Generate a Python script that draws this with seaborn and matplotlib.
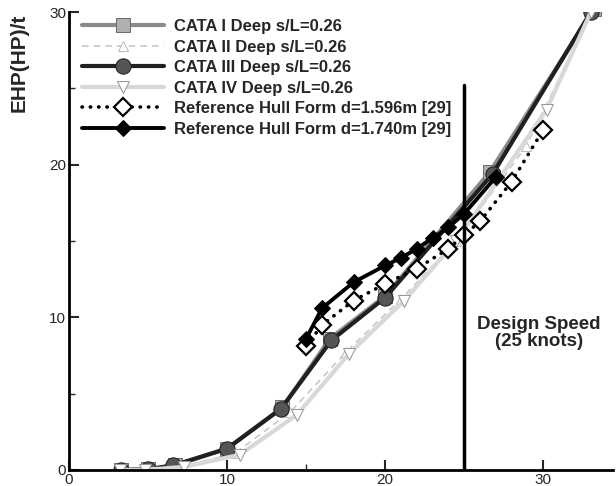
import matplotlib
matplotlib.use("Agg")
import matplotlib.pyplot as plt
import seaborn as sns
import pandas as pd

sns.set_theme(style="white")
plt.rcParams['font.family'] = ['Liberation Sans', 'DejaVu Sans']

# ---- data ----
cata1_x = [3.3, 5.0, 6.7, 10.0, 13.5, 16.5, 20.0, 26.6, 33.2]
cata1_y = [0.0, 0.05, 0.3, 1.4, 4.1, 8.6, 11.4, 19.5, 30.2]

cata2_x = [3.3, 5.0, 7.0, 10.5, 14.0, 17.5, 21.0, 24.5, 28.9, 33.3]
cata2_y = [0.0, 0.02, 0.2, 1.1, 3.8, 7.7, 11.2, 15.0, 21.2, 30.5]

cata3_x = [3.3, 5.0, 6.6, 10.0, 13.4, 16.6, 20.0, 26.8, 33.0]
cata3_y = [0.0, 0.05, 0.3, 1.4, 4.0, 8.5, 11.3, 19.4, 30.0]

cata4_x = [3.2, 4.8, 7.3, 10.8, 14.4, 17.7, 21.2, 24.5, 30.2, 33.0]
cata4_y = [0.0, 0.02, 0.2, 1.0, 3.6, 7.6, 11.1, 15.0, 23.6, 30.0]

ref1596_x = [15.0, 16.0, 18.0, 20.0, 22.0, 24.0, 25.0, 26.0, 28.0, 30.0]
ref1596_y = [8.1, 9.5, 11.1, 12.2, 13.2, 14.5, 15.4, 16.3, 18.9, 22.3]

ref1740_x = [15.0, 16.0, 18.0, 20.0, 21.0, 22.0, 23.0, 24.0, 25.0, 27.0]
ref1740_y = [8.6, 10.6, 12.3, 13.4, 13.9, 14.5, 15.2, 15.9, 16.8, 19.2]

labels = ["CATA I Deep s/L=0.26", "CATA II Deep s/L=0.26", "CATA III Deep s/L=0.26",
          "CATA IV Deep s/L=0.26", "Reference Hull Form d=1.596m [29]",
          "Reference Hull Form d=1.740m [29]"]

design_speed = 25
design_top = 25.2
x_ticks = [0, 10, 20, 30]
y_ticks = [0, 10, 20, 30]

fig = plt.figure(figsize=(6.16, 4.86), dpi=100)
ax = fig.add_axes([0.112, 0.033, 0.883, 0.942])

def df(x, y):
    return pd.DataFrame({"x": x, "y": y})

sns.lineplot(data=df(cata1_x, cata1_y), x="x", y="y", ax=ax, color="#8a8a8a", lw=3,
             marker="s", markersize=10, markerfacecolor="#b0b0b0", markeredgecolor="#707070",
             label=labels[0])
sns.lineplot(data=df(cata2_x, cata2_y), x="x", y="y", ax=ax, color="#c8c8c8", lw=1.2,
             linestyle=(0, (4, 3)), marker="^", markersize=7, markerfacecolor="white",
             markeredgecolor="#bbbbbb", label=labels[1])
sns.lineplot(data=df(cata3_x, cata3_y), x="x", y="y", ax=ax, color="#202020", lw=3,
             marker="o", markersize=11, markerfacecolor="#555555", markeredgecolor="#222222",
             label=labels[2])
sns.lineplot(data=df(cata4_x, cata4_y), x="x", y="y", ax=ax, color="#d8d8d8", lw=3,
             marker="v", markersize=8, markerfacecolor="white", markeredgecolor="#999999",
             label=labels[3])
sns.lineplot(data=df(ref1596_x, ref1596_y), x="x", y="y", ax=ax, color="black", lw=2.6,
             linestyle=(0, (0.1, 2.2)), dash_capstyle="round", marker="D", markersize=9,
             markerfacecolor="white", markeredgecolor="black", markeredgewidth=1.6,
             label=labels[4])
sns.lineplot(data=df(ref1740_x, ref1740_y), x="x", y="y", ax=ax, color="black", lw=2.8,
             marker="D", markersize=8, markerfacecolor="black", markeredgecolor="black",
             label=labels[5])

ax.plot([design_speed, design_speed], [0, design_top], color="black", lw=2.5, zorder=5)
ax.text(29.7, 8.95, "Design Speed\n(25 knots)", ha="center", va="center",
        fontsize=13.5, fontweight="bold", linespacing=1.0)

ax.set_xlim(0, 34.4)
ax.set_ylim(0, 30)
ax.set_xticks(x_ticks)
ax.set_yticks(y_ticks)
ax.set_xticks([5, 15, 25], minor=True)
ax.set_yticks([5, 15, 25], minor=True)
ax.tick_params(which="major", direction="in", length=7, width=1.5, labelsize=11, pad=2)
ax.tick_params(which="minor", direction="in", length=4, width=1)
ax.tick_params(axis="x", which="both", bottom=True)
ax.tick_params(axis="y", which="both", left=True)
ax.set_xlabel("")
ax.set_ylabel("EHP(HP)/t", fontsize=15, fontweight="bold")
ax.yaxis.set_label_coords(-0.074, 0.89)
for s in ["top", "right"]:
    ax.spines[s].set_visible(False)
for s in ["left", "bottom"]:
    ax.spines[s].set_linewidth(2)
    ax.spines[s].set_color("black")

leg = ax.legend(loc="upper left", bbox_to_anchor=(0.024, 0.985), frameon=False,
                fontsize=12, handlelength=4.9, handletextpad=0.6, labelspacing=0.33,
                borderaxespad=0, borderpad=0)
for t in leg.get_texts():
    t.set_fontweight("bold")

fig.savefig("out.png", dpi=100)
